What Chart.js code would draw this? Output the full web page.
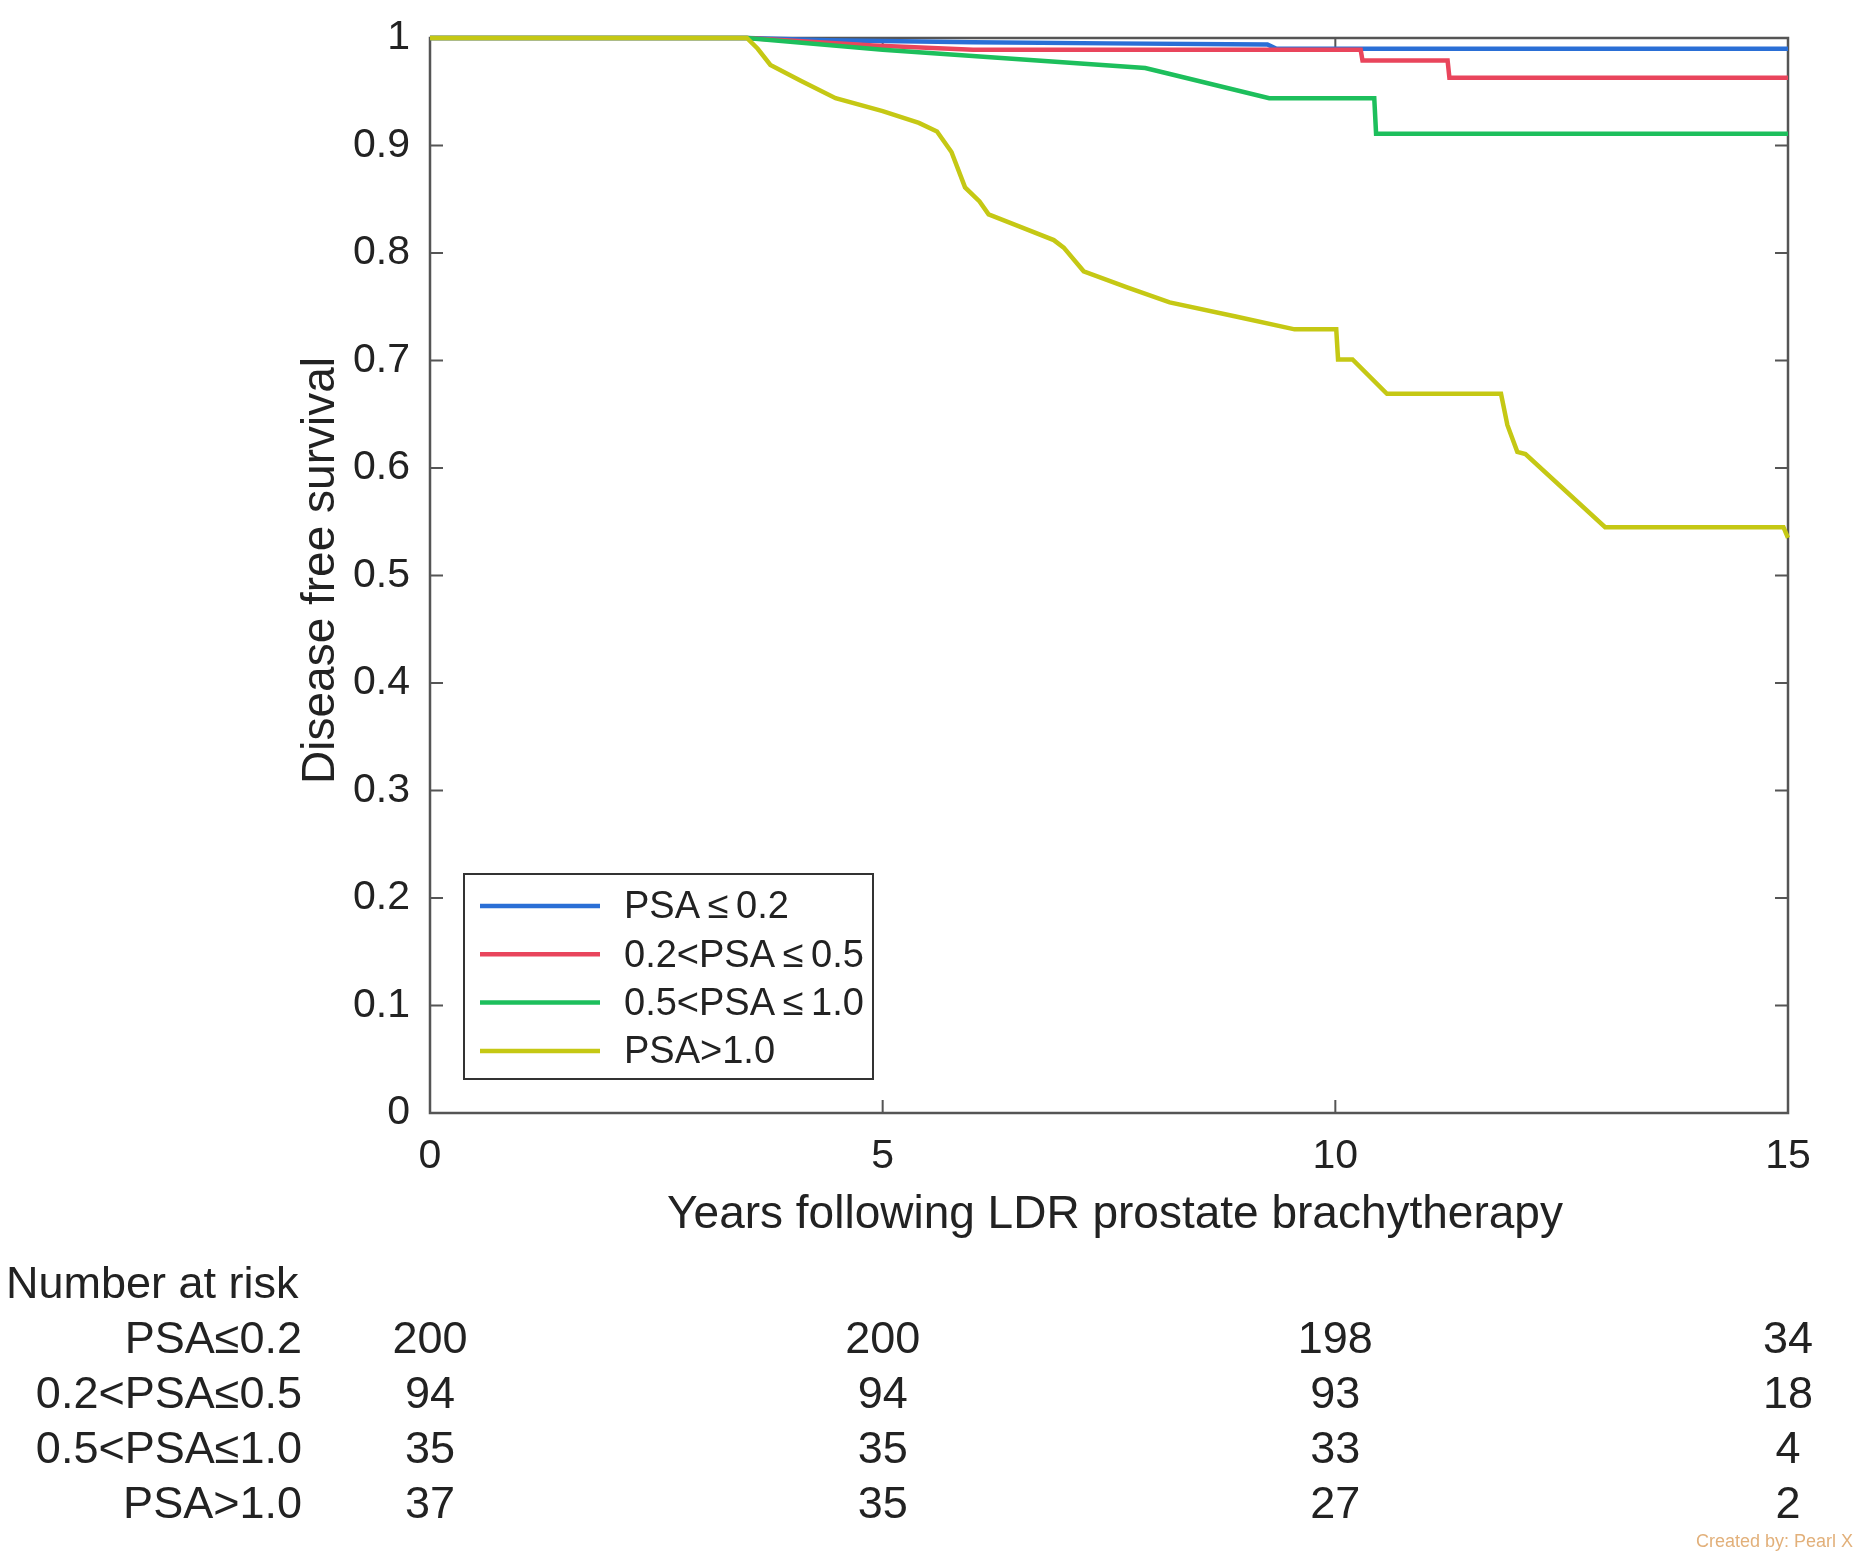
<!DOCTYPE html>
<html>
<head>
<meta charset="utf-8">
<title>Disease free survival by PSA group</title>
<script src="https://cdn.jsdelivr.net/npm/chart.js@4.4.0/dist/chart.umd.min.js"></script>
<style>
  html, body { margin: 0; padding: 0; background: #fff; }
  #km { display: block; }
</style>
</head>
<body>
<canvas id="km" width="1857" height="1557"></canvas>
<script>
// groups, in legend order
var groupLabels = ['PSA\u2009≤\u20090.2', '0.2<PSA\u2009≤\u20090.5', '0.5<PSA\u2009≤\u20091.0', 'PSA>1.0'];
var groupColors = ['#2a6fd6', '#e9455c', '#1dbf5c', '#c5c814'];

// survival curves (years, fraction disease free)
var xBlue = [0, 3.5, 4.4, 6.0, 7.5, 9.25, 9.35, 15];
var yBlue = [1, 1, 0.998, 0.996, 0.995, 0.994, 0.990, 0.990];

var xRed = [0, 3.5, 4.9, 6.0, 10.28, 10.3, 11.24, 11.26, 15];
var yRed = [1, 1, 0.993, 0.989, 0.989, 0.979, 0.979, 0.963, 0.963];

var xGreen = [0, 3.5, 5.0, 7.9, 8.15, 9.27, 10.43, 10.45, 15];
var yGreen = [1, 1, 0.989, 0.972, 0.967, 0.944, 0.944, 0.911, 0.911];

var xYellow = [0, 3.5, 3.62, 3.76, 4.1, 4.48, 5.0, 5.4, 5.6, 5.76, 5.91, 6.07, 6.17, 6.5, 6.89, 7.0, 7.22,
               7.7, 8.17, 8.9, 9.55, 10.01, 10.03, 10.19, 10.57, 11.83, 11.9, 12.01, 12.1, 12.98, 14.95, 15];
var yYellow = [1, 1, 0.99, 0.975, 0.96, 0.944, 0.932, 0.921, 0.913, 0.894, 0.861, 0.848, 0.836, 0.825, 0.812, 0.805, 0.783,
               0.768, 0.754, 0.741, 0.729, 0.729, 0.701, 0.701, 0.669, 0.669, 0.64, 0.615, 0.613, 0.545, 0.545, 0.535];

// axes
var xTickValues = [0, 5, 10, 15];
var xTickLabels = ['0', '5', '10', '15'];
var yTickValues = [0, 0.1, 0.2, 0.3, 0.4, 0.5, 0.6, 0.7, 0.8, 0.9, 1];
var yTickLabels = ['0', '0.1', '0.2', '0.3', '0.4', '0.5', '0.6', '0.7', '0.8', '0.9', '1'];

// number at risk table
var riskTimes = [0, 5, 10, 15];
var riskBlue = [200, 200, 198, 34];
var riskRed = [94, 94, 93, 18];
var riskGreen = [35, 35, 33, 4];
var riskYellow = [37, 35, 27, 2];
var riskRowLabels = ['PSA≤0.2', '0.2<PSA≤0.5', '0.5<PSA≤1.0', 'PSA>1.0'];

var FONT = '"Liberation Sans", Arial, Helvetica, sans-serif';
var AXIS_COLOR = '#555555';

function toPoints(xs, ys) {
    var pts = [];
    for (var i = 0; i < xs.length; i++) {
        pts.push({x: xs[i], y: ys[i]});
    }
    return pts;
}

function curve(idx, xs, ys, order) {
    return {
        label: groupLabels[idx],
        data: toPoints(xs, ys),
        borderColor: groupColors[idx],
        backgroundColor: groupColors[idx],
        borderWidth: 4.5,
        pointRadius: 0,
        tension: 0,
        fill: false,
        clip: 6,
        order: order
    };
}

// matlab style box, inward ticks, legend, titles and the risk table
var matlabExtras = {
    id: 'matlabExtras',
    beforeDatasetsDraw: function (chart) {
        var ctx = chart.ctx;
        var a = chart.chartArea;
        var xs = chart.scales.x, ys = chart.scales.y;
        var tick = 13;
        ctx.save();
        ctx.strokeStyle = AXIS_COLOR;
        ctx.lineWidth = 2.5;
        ctx.strokeRect(a.left, a.top, a.right - a.left, a.bottom - a.top);
        ctx.lineWidth = 2;
        ctx.beginPath();
        yTickValues.forEach(function (v) {
            var py = ys.getPixelForValue(v);
            ctx.moveTo(a.left, py); ctx.lineTo(a.left + tick, py);
            ctx.moveTo(a.right, py); ctx.lineTo(a.right - tick, py);
        });
        xTickValues.forEach(function (v) {
            var px = xs.getPixelForValue(v);
            ctx.moveTo(px, a.bottom); ctx.lineTo(px, a.bottom - tick);
            ctx.moveTo(px, a.top); ctx.lineTo(px, a.top + tick);
        });
        ctx.stroke();
        ctx.restore();
    },
    afterDraw: function (chart) {
        var ctx = chart.ctx;
        var a = chart.chartArea;
        var xs = chart.scales.x;
        ctx.save();

        // legend
        var lx = a.left + 34, ly = a.top + 836, lw = 409, lh = 205;
        ctx.fillStyle = '#ffffff';
        ctx.fillRect(lx, ly, lw, lh);
        ctx.strokeStyle = '#333333';
        ctx.lineWidth = 2;
        ctx.strokeRect(lx, ly, lw, lh);
        ctx.font = '38px ' + FONT;
        ctx.textAlign = 'left';
        ctx.textBaseline = 'middle';
        chart.data.datasets.forEach(function (ds, i) {
            var cy = ly + 32 + i * 48.3;
            ctx.strokeStyle = ds.borderColor;
            ctx.lineWidth = 4.5;
            ctx.beginPath();
            ctx.moveTo(lx + 16, cy);
            ctx.lineTo(lx + 136, cy);
            ctx.stroke();
            ctx.fillStyle = '#222222';
            ctx.fillText(ds.label, lx + 160, cy + 2);
        });

        // axis titles
        ctx.fillStyle = '#222222';
        ctx.font = '46px ' + FONT;
        ctx.textAlign = 'center';
        ctx.textBaseline = 'middle';
        ctx.fillText('Years following LDR prostate brachytherapy', (a.left + a.right) / 2 + 6, a.bottom + 102);
        ctx.save();
        ctx.translate(a.left - 109, (a.top + a.bottom) / 2 - 5);
        ctx.rotate(-Math.PI / 2);
        ctx.fillText('Disease free survival', 0, 0);
        ctx.restore();

        // number at risk
        ctx.font = '45px ' + FONT;
        ctx.textAlign = 'left';
        ctx.fillText('Number at risk', 6, a.bottom + 173);
        var rows = [riskBlue, riskRed, riskGreen, riskYellow];
        rows.forEach(function (row, r) {
            var cy = a.bottom + 228 + r * 55;
            ctx.textAlign = 'right';
            ctx.fillText(riskRowLabels[r], 302, cy);
            ctx.textAlign = 'center';
            row.forEach(function (n, c) {
                ctx.fillText(String(n), xs.getPixelForValue(riskTimes[c]), cy);
            });
        });

        // small credit line
        ctx.font = '18px ' + FONT;
        ctx.fillStyle = '#e2b07a';
        ctx.textAlign = 'right';
        ctx.fillText('Created by: Pearl X', 1853, 1542);
        ctx.restore();
    }
};

Chart.defaults.font.family = FONT;
Chart.defaults.color = '#222222';

var chart = new Chart(document.getElementById('km'), {
    type: 'line',
    data: {
        datasets: [
            curve(0, xBlue, yBlue, 3),
            curve(1, xRed, yRed, 2),
            curve(2, xGreen, yGreen, 1),
            curve(3, xYellow, yYellow, 0)
        ]
    },
    options: {
        responsive: false,
        animation: false,
        devicePixelRatio: 1,
        layout: {
            padding: {top: 38, right: 69, left: 0, bottom: 0}
        },
        plugins: {
            legend: {display: false},
            tooltip: {enabled: false}
        },
        scales: {
            x: {
                type: 'linear',
                min: 0,
                max: 15,
                grid: {display: false, drawTicks: false},
                border: {display: false},
                afterBuildTicks: function (scale) {
                    scale.ticks = xTickValues.map(function (v) { return {value: v}; });
                },
                ticks: {
                    padding: 19,
                    font: {size: 41},
                    color: '#222222',
                    maxRotation: 0,
                    callback: function (value, index) { return xTickLabels[index]; }
                },
                afterFit: function (scale) {
                    scale.height = 444;
                    scale.paddingLeft = 0;
                    scale.paddingRight = 0;
                }
            },
            y: {
                type: 'linear',
                min: 0,
                max: 1,
                grid: {display: false, drawTicks: false},
                border: {display: false},
                afterBuildTicks: function (scale) {
                    scale.ticks = yTickValues.map(function (v) { return {value: v}; });
                },
                ticks: {
                    padding: 20,
                    font: {size: 41},
                    color: '#222222',
                    callback: function (value, index) { return yTickLabels[index]; }
                },
                afterFit: function (scale) {
                    scale.width = 430;
                    scale.paddingTop = 0;
                    scale.paddingBottom = 0;
                }
            }
        }
    },
    plugins: [matlabExtras]
});
</script>
</body>
</html>
